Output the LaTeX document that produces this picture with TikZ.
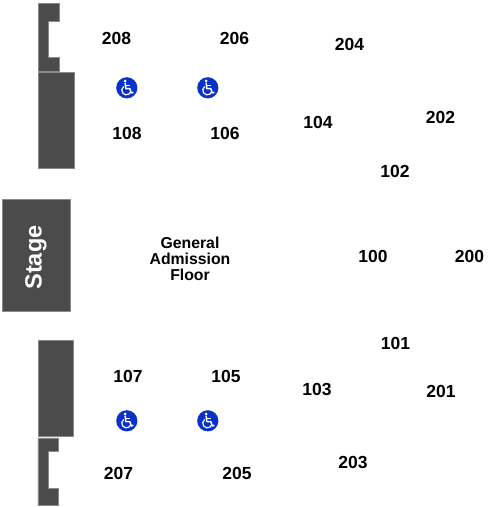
\documentclass[tikz,border=0pt]{standalone}
\usepackage{fontspec}
\setmainfont{Liberation Sans}
\definecolor{blockgray}{HTML}{4B4B4B}
\definecolor{edgegray}{HTML}{8A8A8A}
\definecolor{adablue}{HTML}{0A32C8}
\newcommand{\wheelchair}[2]{%
  \begin{scope}[shift={(#1,#2)}]
    \fill[adablue] (0,0) circle (10.6);
    \fill[white] (-1.6,-6.8) circle (1.5);
    \draw[white,line width=1.5,line join=round,line cap=round]
      (-1.6,-4.6) -- (-1,0.8) -- (3,0.8) -- (4.6,5.2) -- (6.2,4.6);
    \draw[white,line width=1.1] (-1.3,-2) -- (3,-2);
    \draw[white,line width=1.2] (-3.1,-1.3) arc[start angle=235,end angle=20,radius=4.6];
  \end{scope}}
\tikzset{
  seclabel/.style={font=\fontsize{17.5}{18}\selectfont\bfseries,text=black,inner sep=0pt},
  blockshape/.style={fill=blockgray,draw=edgegray,line width=0.5},
}
\begin{document}
\begin{tikzpicture}[x=1pt,y=-1pt]
\useasboundingbox (0,0) rectangle (504,507);
% blocks
\path[blockshape] (38.5,3.5) -- (59.5,3.5) -- (59.5,21) -- (48.5,21) -- (48.5,57) -- (59.5,57) -- (59.5,71) -- (38.5,71) -- cycle;
\path[blockshape] (38.5,72) rectangle (73.8,168);
\path[blockshape] (2.5,199.5) rectangle (70.5,311);
\path[blockshape] (37.8,340) rectangle (73.2,436.5);
\path[blockshape] (37.8,437.8) -- (58.3,437.8) -- (58.3,451.5) -- (48,451.5) -- (48,488.5) -- (58.3,488.5) -- (58.3,505.5) -- (37.8,505.5) -- cycle;
\node[font=\fontsize{23.5}{24}\selectfont\bfseries,text=white,rotate=90,inner sep=0pt] (stage) at (36,257.5) {Stage};
% wheelchair symbols
\wheelchair{126.8}{87.8}
\wheelchair{207.8}{87.8}
\wheelchair{126.8}{420.8}
\wheelchair{207.8}{420.8}
% labels
\node[seclabel] (s208) at (116.5,38) {208};
\node[seclabel] (s206) at (234.5,38) {206};
\node[seclabel] (s204) at (349.5,44.5) {204};
\node[seclabel] (s108) at (127,133) {108};
\node[seclabel] (s106) at (225,133) {106};
\node[seclabel] (s104) at (318,122.5) {104};
\node[seclabel] (s202) at (440.5,117.5) {202};
\node[seclabel] (s102) at (395,171.5) {102};
\node[seclabel] (s100) at (373,256) {100};
\node[seclabel] (s200) at (469.5,256) {200};
\node[seclabel] (s101) at (395.5,343) {101};
\node[seclabel] (s103) at (317,389.5) {103};
\node[seclabel] (s201) at (441,391.5) {201};
\node[seclabel] (s107) at (128,376.5) {107};
\node[seclabel] (s105) at (226,376.5) {105};
\node[seclabel] (s203) at (353,462.5) {203};
\node[seclabel] (s207) at (118.5,473.5) {207};
\node[seclabel] (s205) at (237,473.5) {205};
\node[align=center,font=\fontsize{15.8}{16}\selectfont\bfseries,inner sep=0pt] (ga) at (190,259) {General\\Admission\\Floor};
\end{tikzpicture}
\end{document}
